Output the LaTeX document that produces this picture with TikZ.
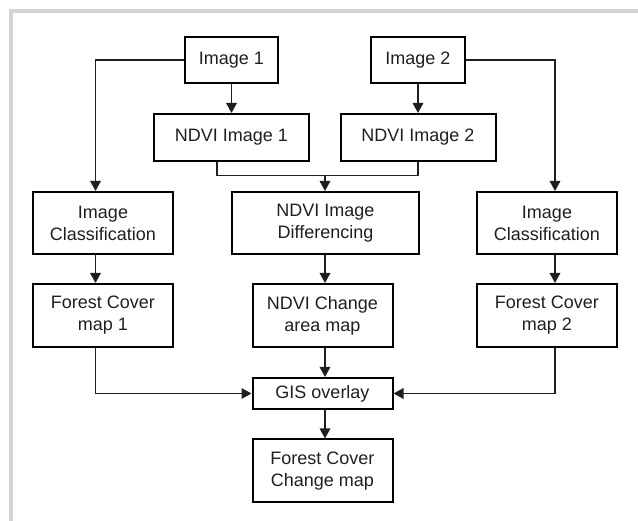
\documentclass[tikz,border=0pt]{standalone}
\usepackage{fontspec}
\setmainfont{Liberation Sans}
\usetikzlibrary{arrows.meta}
\begin{document}
\begin{tikzpicture}[x=1pt,y=-1pt,
  box/.style={draw=black,line width=2pt,inner sep=0pt,align=center,text=black!88,
    font=\fontsize{18}{22}\selectfont},
  conn/.style={line width=1.6pt,draw=black!88},
  arr/.style={conn,-{Triangle[length=10pt,width=10.5pt]}}]
\useasboundingbox (0,0) rectangle (638,521);
\draw[line width=3.5pt,draw=black!17] (11,521) -- (11,11) -- (638,11);
% nodes
\node[box,minimum width=93pt,minimum height=46pt] (img1) at (231.5,60) {Image 1};
\node[box,minimum width=94pt,minimum height=46pt] (img2) at (418,60) {Image 2};
\node[box,minimum width=155pt,minimum height=47pt] (ndvi1) at (231.5,137.5) {NDVI Image 1};
\node[box,minimum width=155pt,minimum height=47pt] (ndvi2) at (418,137.5) {NDVI Image 2};
\node[box,minimum width=140pt,minimum height=62pt] (cls1) at (103,223) {Image\\Classification};
\node[box,minimum width=187pt,minimum height=62pt] (diff) at (325.5,223) {NDVI Image\\Differencing};
\node[box,minimum width=140pt,minimum height=62pt] (cls2) at (547,223) {Image\\Classification};
\node[box,minimum width=140pt,minimum height=63pt] (fc1) at (103,315.5) {Forest Cover\\map 1};
\node[box,minimum width=140pt,minimum height=63pt] (chg) at (322.5,315.5) {NDVI Change\\area map};
\node[box,minimum width=140pt,minimum height=63pt] (fc2) at (547,315.5) {Forest Cover\\map 2};
\node[box,minimum width=140pt,minimum height=31pt] (gis) at (322.5,393.5) {GIS overlay};
\node[box,minimum width=140pt,minimum height=63pt] (fcc) at (322.5,471) {Forest Cover\\Change map};
% helper coordinates
\coordinate (xl) at (95.5,0);
\coordinate (xr) at (555,0);
\coordinate (xc) at (325,0);
\coordinate (x1) at (217,0);
\coordinate (mg) at (325,175.5);
% connectors
\draw[arr] (img1.west) -| (cls1.north -| xl);
\draw[arr] (img2.east) -| (cls2.north -| xr);
\draw[arr] (img1) -- (ndvi1);
\draw[arr] (img2) -- (ndvi2);
\draw[conn] (ndvi1.south -| x1) |- (mg) -| (ndvi2.south);
\draw[arr] (mg) -- (diff.north -| mg);
\draw[arr] (cls1.south -| xl) -- (fc1.north -| xl);
\draw[arr] (cls2.south -| xr) -- (fc2.north -| xr);
\draw[arr] (diff.south -| xc) -- (chg.north -| xc);
\draw[arr] (chg.south -| xc) -- (gis.north -| xc);
\draw[arr] (gis.south -| xc) -- (fcc.north -| xc);
\draw[arr] (fc1.south -| xl) |- (gis.west);
\draw[arr] (fc2.south -| xr) |- (gis.east);
\end{tikzpicture}
\end{document}
